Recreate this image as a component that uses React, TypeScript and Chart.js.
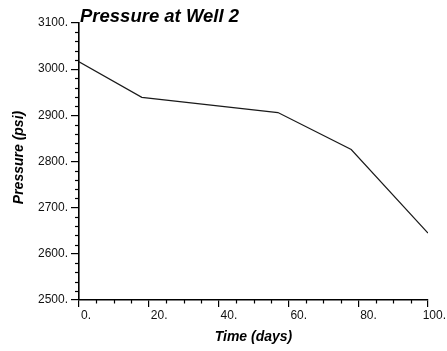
import React, { useEffect, useRef } from 'react';
import { Chart, registerables } from 'chart.js';

Chart.register(...registerables);

const TITLE = 'Pressure at Well 2';
const X_TITLE = 'Time (days)';
const Y_TITLE = 'Pressure (psi)';

const timeDays = [0, 18, 57, 78, 100];
const pressurePsi = [3016, 2939, 2906, 2826, 2645];

const X_MIN = 0;
const X_MAX = 100;
const X_STEP = 20;
const X_MINOR = 5;
const Y_MIN = 2500;
const Y_MAX = 3100;
const Y_STEP = 100;
const Y_MINOR = 20;

const FAMILY = '"Liberation Sans", Arial, Helvetica, sans-serif';

const decorPlugin = {
  id: 'decor',
  afterDraw(chart: any) {
    const { ctx, chartArea, scales } = chart;
    const xs = scales.x;
    const ys = scales.y;
    ctx.save();
    ctx.strokeStyle = '#000';
    ctx.lineWidth = 1.2;
    // minor ticks x
    for (let v = X_MIN; v <= X_MAX; v += X_MINOR) {
      if (v % X_STEP === 0) continue;
      const px = Math.round(xs.getPixelForValue(v)) + 0.5;
      ctx.beginPath();
      ctx.moveTo(px, chartArea.bottom);
      ctx.lineTo(px, chartArea.bottom + 3.5);
      ctx.stroke();
    }
    for (let v = Y_MIN; v <= Y_MAX; v += Y_MINOR) {
      if (v % Y_STEP === 0) continue;
      const py = Math.round(ys.getPixelForValue(v)) + 0.5;
      ctx.beginPath();
      ctx.moveTo(chartArea.left - 4, py);
      ctx.lineTo(chartArea.left, py);
      ctx.stroke();
    }
    ctx.fillStyle = '#111';
    // x tick labels, left-aligned just right of each tick
    ctx.font = `12px ${FAMILY}`;
    ctx.textAlign = 'left';
    ctx.textBaseline = 'middle';
    xs.ticks.forEach((t: any) => {
      const label = `${t.value}.`;
      const w = ctx.measureText(label).width;
      const px = xs.getPixelForValue(t.value);
      const x = Math.min(px + 2, chart.width - 1 - w);
      ctx.fillText(label, x, chartArea.bottom + 16);
    });
    ctx.fillStyle = '#000';
    // title
    ctx.font = `italic bold 18.5px ${FAMILY}`;
    ctx.textAlign = 'left';
    ctx.textBaseline = 'alphabetic';
    ctx.fillText(TITLE, chartArea.left + 1, chartArea.top - 1);
    // x title
    ctx.font = `italic bold 14px ${FAMILY}`;
    ctx.textAlign = 'center';
    ctx.fillText(X_TITLE, (chartArea.left + chartArea.right) / 2, chartArea.bottom + 41);
    // y title
    ctx.translate(chartArea.left - 60, (chartArea.top + chartArea.bottom) / 2 - 4);
    ctx.rotate(-Math.PI / 2);
    ctx.textBaseline = 'middle';
    ctx.fillText(Y_TITLE, 0, 0);
    ctx.restore();
  },
};

export default function App() {
  const ref = useRef<HTMLCanvasElement>(null);
  useEffect(() => {
    if (!ref.current) return;
    const chart = new Chart(ref.current, {
      type: 'line',
      data: {
        datasets: [
          {
            data: timeDays.map((t, i) => ({ x: t, y: pressurePsi[i] })),
            borderColor: '#1a1a1a',
            borderWidth: 1.2,
            pointRadius: 0,
            tension: 0,
            fill: false,
          },
        ],
      },
      options: {
        animation: false,
        responsive: false,
        events: [],
        layout: { padding: { top: 23, right: 19, left: 0, bottom: 0 } },
        plugins: { legend: { display: false }, tooltip: { enabled: false }, title: { display: false } },
        scales: {
          x: {
            type: 'linear',
            min: X_MIN,
            max: X_MAX,
            afterFit: (s: any) => {
              s.height = 51;
            },
            ticks: {
              display: false,
              stepSize: X_STEP,
              autoSkip: false,
              maxRotation: 0,
            },
            grid: { drawOnChartArea: false, drawTicks: true, tickLength: 7, color: '#000', lineWidth: 1.2 },
            border: { display: true, color: '#000', width: 1.6 },
          },
          y: {
            type: 'linear',
            min: Y_MIN,
            max: Y_MAX,
            afterFit: (s: any) => {
              s.width = 79;
            },
            ticks: {
              stepSize: Y_STEP,
              autoSkip: false,
              padding: 3,
              color: '#111',
              font: { size: 12, family: FAMILY },
              callback: (v: any) => `${v}.`,
            },
            grid: { drawOnChartArea: false, drawTicks: true, tickLength: 8, color: '#000', lineWidth: 1.2 },
            border: { display: true, color: '#000', width: 1.6 },
          },
        },
      },
      plugins: [decorPlugin],
    });
    return () => chart.destroy();
  }, []);
  return (
    <div style={{ position: 'absolute', left: 0, top: 0, width: 447, height: 351, background: '#fff' }}>
      <canvas ref={ref} width={447} height={351} />
    </div>
  );
}
